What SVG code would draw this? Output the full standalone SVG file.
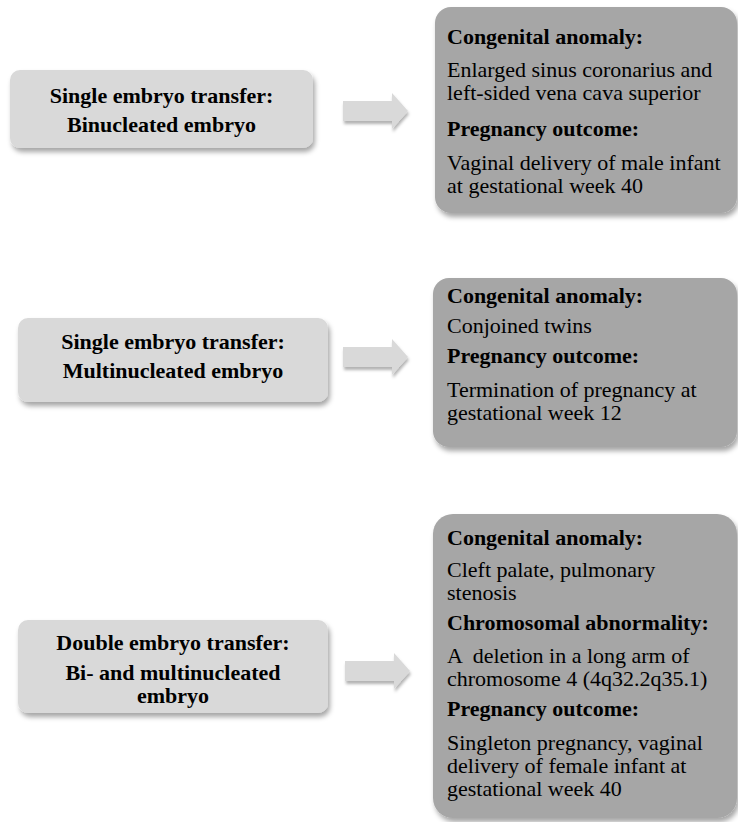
<svg xmlns="http://www.w3.org/2000/svg" width="738" height="822" viewBox="0 0 738 822">
<style>
.src{fill:#d9d9d9;filter:url(#sh)}
.res{fill:#a6a6a6;filter:url(#sh)}
.arr{fill:#d9d9d9;filter:url(#sh2)}
text{font-family:"Liberation Serif","Times New Roman",serif;font-size:22px;fill:#000}
.b{font-weight:bold}
.c{text-anchor:middle}
</style>
<defs>
<filter id="sh" x="-10%" y="-10%" width="125%" height="130%">
<feDropShadow dx="2" dy="4" stdDeviation="2.5" flood-color="#000" flood-opacity="0.35"/>
</filter>
<filter id="sh2" x="-20%" y="-30%" width="140%" height="170%">
<feDropShadow dx="1" dy="3" stdDeviation="1.5" flood-color="#000" flood-opacity="0.3"/>
</filter>
</defs>
<g id="connectors">
<path class="arr" d="M343,101 H392 V93 L408,111 L392,129 V121 H343 Z"/>
<path class="arr" d="M343,347 H392 V339 L408,357 L392,375 V367 H343 Z"/>
<path class="arr" d="M345,661 H394 V653 L410,671 L394,689 V681 H345 Z"/>
</g>
<g id="src1">
<rect class="src" x="10" y="70" width="303" height="78" rx="10"/>
<text class="b c" x="161.5" y="103">Single embryo transfer:</text>
<text class="b c" x="161.5" y="132">Binucleated embryo</text>
</g>
<g id="res1">
<rect class="res" x="435" y="7" width="302" height="206" rx="16"/>
<text class="b" x="447" y="44">Congenital anomaly:</text>
<text x="447" y="77">Enlarged sinus coronarius and</text>
<text x="447" y="100">left-sided vena cava superior</text>
<text class="b" x="447" y="136">Pregnancy outcome:</text>
<text x="447" y="170">Vaginal delivery of male infant</text>
<text x="447" y="193">at gestational week 40</text>
</g>
<g id="src2">
<rect class="src" x="18" y="318" width="310" height="84" rx="10"/>
<text class="b c" x="173" y="349">Single embryo transfer:</text>
<text class="b c" x="173" y="378">Multinucleated embryo</text>
</g>
<g id="res2">
<rect class="res" x="433" y="278" width="304" height="169" rx="16"/>
<text class="b" x="447" y="303">Congenital anomaly:</text>
<text x="447" y="333">Conjoined twins</text>
<text class="b" x="447" y="363">Pregnancy outcome:</text>
<text x="447" y="397">Termination of pregnancy at</text>
<text x="447" y="420">gestational week 12</text>
</g>
<g id="src3">
<rect class="src" x="18" y="620" width="310" height="93" rx="10"/>
<text class="b c" x="173" y="650">Double embryo transfer:</text>
<text class="b c" x="173" y="680">Bi- and multinucleated</text>
<text class="b c" x="173" y="703">embryo</text>
</g>
<g id="res3">
<rect class="res" x="433" y="514" width="304" height="304" rx="20"/>
<text class="b" x="447" y="545">Congenital anomaly:</text>
<text x="447" y="577">Cleft palate, pulmonary</text>
<text x="447" y="600">stenosis</text>
<text class="b" x="447" y="630">Chromosomal abnormality:</text>
<text x="447" y="663" xml:space="preserve">A  deletion in a long arm of</text>
<text x="447" y="686">chromosome 4 (4q32.2q35.1)</text>
<text class="b" x="447" y="716">Pregnancy outcome:</text>
<text x="447" y="750">Singleton pregnancy, vaginal</text>
<text x="447" y="773">delivery of female infant at</text>
<text x="447" y="796">gestational week 40</text>
</g>
</svg>
